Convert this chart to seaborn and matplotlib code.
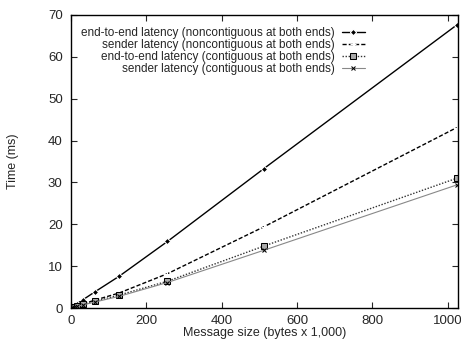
import matplotlib
matplotlib.use("Agg")
import matplotlib.pyplot as plt
import seaborn as sns
import pandas as pd

sizes_kb = [1, 2, 4, 8, 16, 32, 64, 128, 256, 512, 1024]
e2e_noncontig = [0.1, 0.15, 0.3, 0.55, 1.05, 2.0, 3.9, 7.6, 15.9, 33.3, 67.6]
sender_noncontig = [0.07, 0.1, 0.2, 0.3, 0.55, 1.0, 1.9, 3.6, 8.2, 19.4, 43.1]
e2e_contig = [0.08, 0.1, 0.15, 0.25, 0.45, 0.85, 1.6, 3.1, 6.4, 14.8, 31.0]
sender_contig = [0.06, 0.08, 0.12, 0.22, 0.4, 0.75, 1.45, 2.8, 6.1, 13.8, 29.4]

labels = [
    "end-to-end latency (noncontiguous at both ends)",
    "sender latency (noncontiguous at both ends)",
    "end-to-end latency (contiguous at both ends)",
    "sender latency (contiguous at both ends)",
]
x_ticks = [0, 200, 400, 600, 800, 1000]
y_ticks = [0, 10, 20, 30, 40, 50, 60, 70]

sns.set_style("ticks")
plt.rcParams['font.family'] = ['Liberation Sans', 'DejaVu Sans']
plt.rcParams['xtick.direction'] = 'in'
plt.rcParams['ytick.direction'] = 'in'

fig = plt.figure(figsize=(4.61, 3.40), dpi=100)
ax = fig.add_axes([0.154, 0.094, 0.84, 0.862])

series = [e2e_noncontig, sender_noncontig, e2e_contig, sender_contig]
styles = [
    dict(color="black", linestyle="-", marker="D", markersize=3.2, linewidth=1.0, markerfacecolor="black"),
    dict(color="black", linestyle=(0, (3, 1.5)), marker="+", markersize=4.5, linewidth=1.0),
    dict(color="#333333", linestyle=(0, (1, 1.2)), marker="s", markersize=4, linewidth=1.0,
         markerfacecolor="#aaaaaa", markeredgecolor="black"),
    dict(color="#888888", linestyle="-", marker="x", markersize=3.5, linewidth=0.8, markeredgecolor="black"),
]
for vals, lab, st in zip(series, labels, styles):
    df = pd.DataFrame({"size": sizes_kb, "time": vals})
    sns.lineplot(data=df, x="size", y="time", ax=ax, label=lab, **st)

ax.set_xlim(0, 1028)
ax.set_ylim(0, 70)
ax.set_xticks(x_ticks)
ax.set_yticks(y_ticks)
ax.tick_params(axis="both", which="both", direction="in", length=4, width=0.8,
               top=True, right=True, labelsize=9.5)
ax.tick_params(axis="y", pad=6)
ax.tick_params(axis="x", pad=5)
for sp in ax.spines.values():
    sp.set_visible(True)
    sp.set_linewidth(1.0)
    sp.set_color("black")
ax.set_xlabel("Message size (bytes x 1,000)", fontsize=9, labelpad=0)
ax.set_ylabel("Time (ms)", fontsize=9, labelpad=21)

leg = ax.legend(loc="upper left", bbox_to_anchor=(0.027, 0.96), markerfirst=False, frameon=False,
                fontsize=8.5, handlelength=1.9, handletextpad=0.6, labelspacing=0.0,
                borderaxespad=0.0, borderpad=0.0)

fig.savefig("out.png", dpi=100)
